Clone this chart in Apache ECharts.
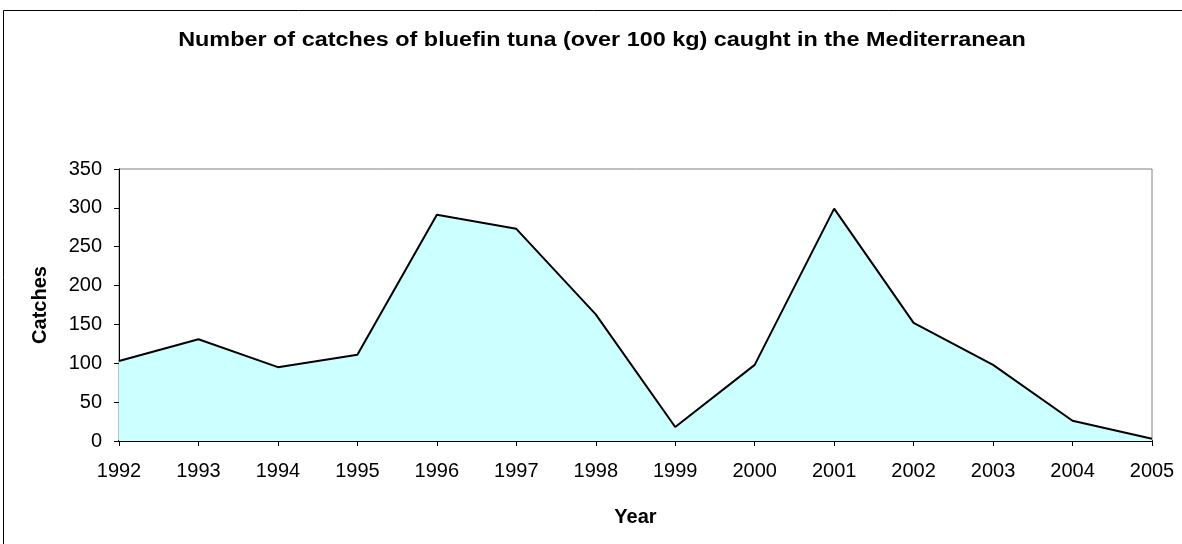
<!DOCTYPE html>
<html>
<head>
<meta charset="utf-8">
<script src="https://cdn.jsdelivr.net/npm/echarts@6/dist/echarts.min.js"></script>
<style>
  html, body { margin: 0; padding: 0; background: #fff; }
  #chart { width: 1182px; height: 544px; }
</style>
</head>
<body>
<div id="chart"></div>
<script>
// Bluefin tuna catches (fish over 100 kg), Mediterranean, by year
const years = ['1992', '1993', '1994', '1995', '1996', '1997', '1998',
               '1999', '2000', '2001', '2002', '2003', '2004', '2005'];
const catches = [103, 131, 95, 111, 291, 273, 163, 18, 98, 299, 152, 98, 26, 3];
const yTicks = { min: 0, max: 350, interval: 50 };
const titleText = 'Number of catches of bluefin tuna (over 100 kg) caught in the Mediterranean';

const font = 'Liberation Sans, Arial, sans-serif';
const chart = echarts.init(document.getElementById('chart'), null, { renderer: 'canvas' });

chart.setOption({
  backgroundColor: '#ffffff',
  animation: false,
  graphic: [
    {
      // outer chart frame
      type: 'rect',
      shape: { x: 3.5, y: 10.5, width: 1300, height: 700 },
      style: { fill: 'none', stroke: '#000', lineWidth: 1 },
      silent: true
    },
    {
      // chart title, slightly widened lettering
      type: 'text',
      x: 602, y: 40.5,
      scaleX: 1.17,
      style: {
        text: titleText,
        fontFamily: font, fontSize: 20, fontWeight: 'bold',
        fill: '#000', align: 'center', verticalAlign: 'middle'
      },
      silent: true
    }
  ],
  grid: {
    left: 119, top: 169, width: 1033, height: 272,
    show: true, borderColor: '#808080', borderWidth: 1,
    backgroundColor: 'transparent'
  },
  xAxis: {
    type: 'category',
    data: years,
    boundaryGap: false,
    name: 'Year',
    nameLocation: 'middle',
    nameGap: 66,
    nameTextStyle: { fontFamily: font, fontSize: 20, fontWeight: 'bold', color: '#000' },
    axisLine: { lineStyle: { color: '#000', width: 2 } },
    axisTick: { show: true, length: 5, inside: false, lineStyle: { color: '#000' } },
    axisLabel: { fontFamily: font, fontSize: 20, color: '#000', margin: 20 },
    splitLine: { show: false }
  },
  yAxis: {
    type: 'value',
    min: yTicks.min, max: yTicks.max, interval: yTicks.interval,
    name: 'Catches',
    nameLocation: 'middle',
    nameGap: 69,
    nameRotate: 90,
    nameTextStyle: { fontFamily: font, fontSize: 20, fontWeight: 'bold', color: '#000' },
    axisLine: { show: true, lineStyle: { color: '#000', width: 1 } },
    axisTick: { show: true, length: 5, lineStyle: { color: '#000' } },
    axisLabel: { fontFamily: font, fontSize: 20, color: '#000', margin: 17 },
    splitLine: { show: false }
  },
  series: [{
    type: 'line',
    data: catches,
    symbol: 'none',
    lineStyle: { color: '#000', width: 2 },
    areaStyle: { color: '#CCFFFF', opacity: 1 },
    z: 1
  }]
});
</script>
</body>
</html>
